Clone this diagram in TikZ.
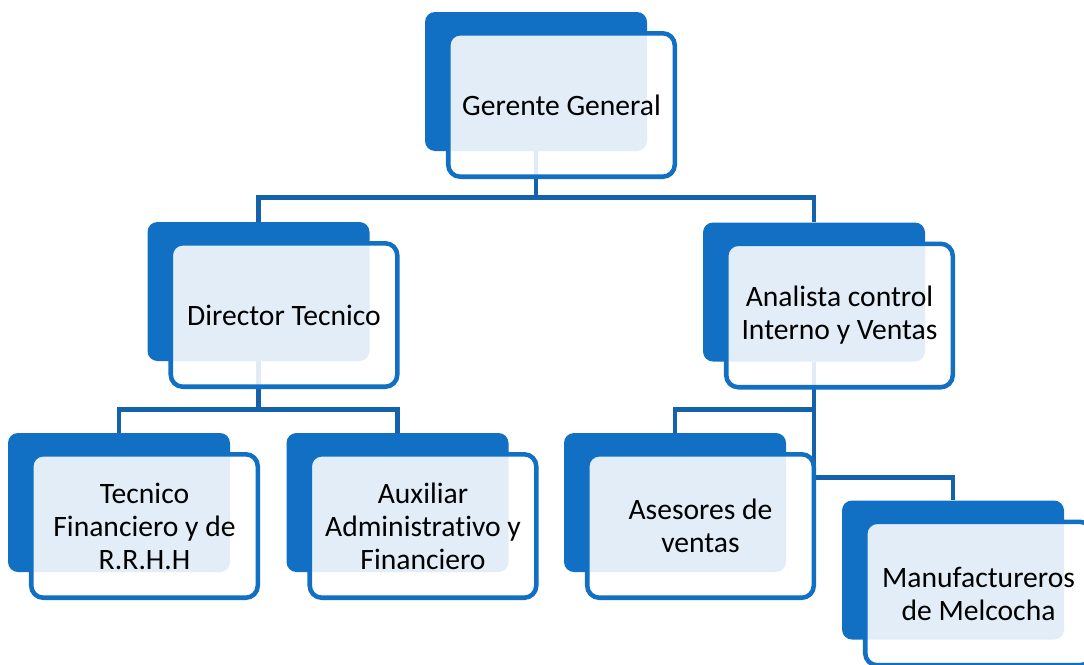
\documentclass[tikz,border=0pt]{standalone}
\usepackage{fontspec}
\setmainfont{Carlito}[Ligatures=NoCommon]
\usetikzlibrary{positioning}
\pgfdeclarelayer{background}
\pgfsetlayers{background,main}
\definecolor{boxblue}{RGB}{17,112,196}
\definecolor{lineblue}{RGB}{21,98,172}

\begin{document}
\begin{tikzpicture}[
  x=0.75pt, y=-0.75pt,
  every node/.style={font=\fontsize{22.2}{24.8}\selectfont},
  backbox/.style={rectangle, fill=boxblue, rounded corners=7.5pt, minimum width=166.5pt, minimum height=104.25pt, inner sep=0pt},
  unitbox/.style={rectangle, draw=boxblue, line width=3.4pt, fill=white, fill opacity=0.88, text opacity=1, rounded corners=9pt, minimum width=169.9pt, minimum height=107.6pt, align=center, inner sep=2pt},
  link/.style={draw=lineblue, line width=3.7pt}
]
  \useasboundingbox (0,0) rectangle (1084,664);

  % top
  \node[backbox] (gg-b) at (536,81.5) {};
  \node[unitbox] (gg) at ([shift={(25.5,23.5)}]gg-b.center) {Gerente General};

  % second level
  \node[backbox] (dt-b) at (258.5,291.5) {};
  \node[unitbox] (dt) at ([shift={(25.5,23.5)}]dt-b.center) {Director Tecnico};
  \node[backbox] (ac-b) at (814,292) {};
  \node[unitbox] (ac) at ([shift={(25.5,23.5)}]ac-b.center) {Analista control\\Interno y Ventas};

  % third level
  \node[backbox] (tf-b) at (119,502.5) {};
  \node[unitbox] (tf) at ([shift={(25.5,23.5)}]tf-b.center) {Tecnico\\Financiero y de\\R.R.H.H};
  \node[backbox] (aa-b) at (397.5,502.5) {};
  \node[unitbox] (aa) at ([shift={(25.5,23.5)}]aa-b.center) {Auxiliar\\Administrativo y\\Financiero};
  \node[backbox] (av-b) at (675,502.5) {};
  \node[unitbox] (av) at ([shift={(25.5,23.5)}]av-b.center) {Asesores de\\ventas};
  \node[backbox] (mm-b) at (953,570) {};
  \node[unitbox] (mm) at ([shift={(25.5,23.5)}]mm-b.center) {Manufactureros\\de Melcocha};

  \begin{pgfonlayer}{background}
    \draw[link] (gg-b.south) -- ++(0,46) -| (dt-b.north);
    \draw[link] (gg-b.south) -- ++(0,46) -| (ac-b.north);
    \draw[link] (dt-b.south) -- ++(0,48) -| (tf-b.north);
    \draw[link] (dt-b.south) -- ++(0,48) -| (aa-b.north);
    \draw[link] (ac-b.south) -- ++(0,48) -| (av-b.north);
    \draw[link] (ac-b.south) -- ++(0,116) -| (mm-b.north);
  \end{pgfonlayer}
\end{tikzpicture}
\end{document}
